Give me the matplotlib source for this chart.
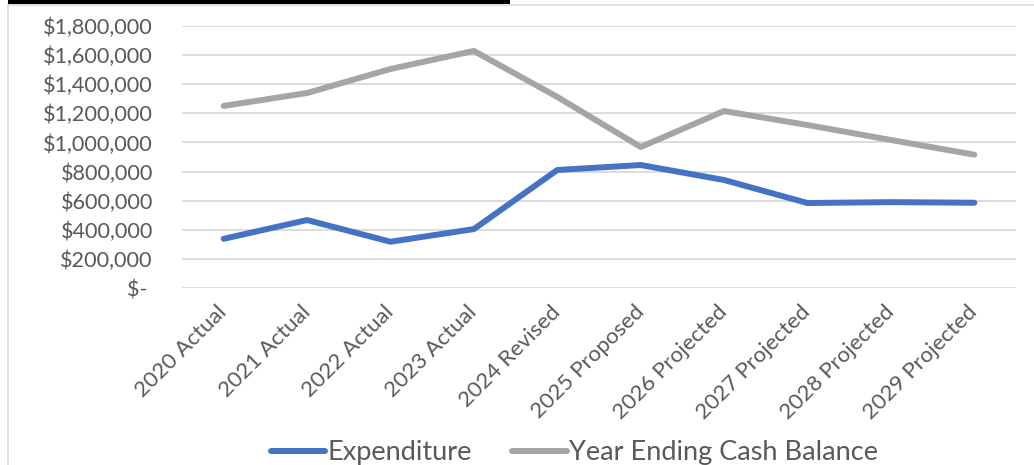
import matplotlib.pyplot as plt
from matplotlib.patches import Rectangle
from matplotlib.ticker import FuncFormatter

# Fund summary by year
years = ['2020 Actual', '2021 Actual', '2022 Actual', '2023 Actual', '2024 Revised',
         '2025 Proposed', '2026 Projected', '2027 Projected', '2028 Projected', '2029 Projected']
expenditure = [338000, 467000, 318000, 405000, 811000, 845000, 742000, 584000, 590000, 586000]
cash_balance = [1251000, 1340000, 1505000, 1629000, 1313000, 969000, 1216000, 1120000, 1017000, 916000]

text_color = '#595959'
plt.rcParams['font.family'] = ['Lato', 'DejaVu Sans']

fig = plt.figure(figsize=(10.34, 4.65), dpi=100)
ax = fig.add_axes([0.176, 0.3806, 0.8066, 0.5634])

x = range(len(years))
ax.plot(x, expenditure, color='#4472c4', lw=4.3, solid_capstyle='round',
        solid_joinstyle='round', label='Expenditure')
ax.plot(x, cash_balance, color='#a5a5a5', lw=4.3, solid_capstyle='round',
        solid_joinstyle='round', label='Year Ending Cash Balance')

ax.set_xlim(-0.5, len(years) - 0.5)
ax.set_ylim(0, 1800000)
ax.set_yticks(range(0, 1800001, 200000))
ax.yaxis.set_major_formatter(FuncFormatter(lambda v, p: '$- ' if v == 0 else f'${v:,.0f}'))
ax.grid(axis='y', color='#d9d9d9', lw=1.3)
ax.set_axisbelow(True)
for s in ax.spines.values():
    s.set_visible(False)
ax.tick_params(axis='both', length=0, labelcolor=text_color)
ax.tick_params(axis='y', pad=21, labelsize=15.6)

ax.set_xticks(list(x))
ax.set_xticklabels(years, rotation=45, ha='right', va='center', rotation_mode='anchor')
ax.tick_params(axis='x', pad=15, labelsize=16)

# chart frame and heading bar
fig.patches.append(Rectangle((8 / 1034, -0.1), 1.2, 1 - 5 / 465 + 0.1, transform=fig.transFigure,
                             fill=False, edgecolor='#d9d9d9', lw=1.2))
fig.patches.append(Rectangle((8 / 1034, 1 - 4 / 465), 502 / 1034, 4 / 465, transform=fig.transFigure,
                             facecolor='black', edgecolor='none'))

fig.legend(loc='center', bbox_to_anchor=(0.5556, 0.026), ncol=2, frameon=False,
           fontsize=19.5, labelcolor=text_color, handlelength=2.0, handletextpad=0.1,
           columnspacing=1.5, borderpad=0)

fig.savefig('out.png', dpi=100)
